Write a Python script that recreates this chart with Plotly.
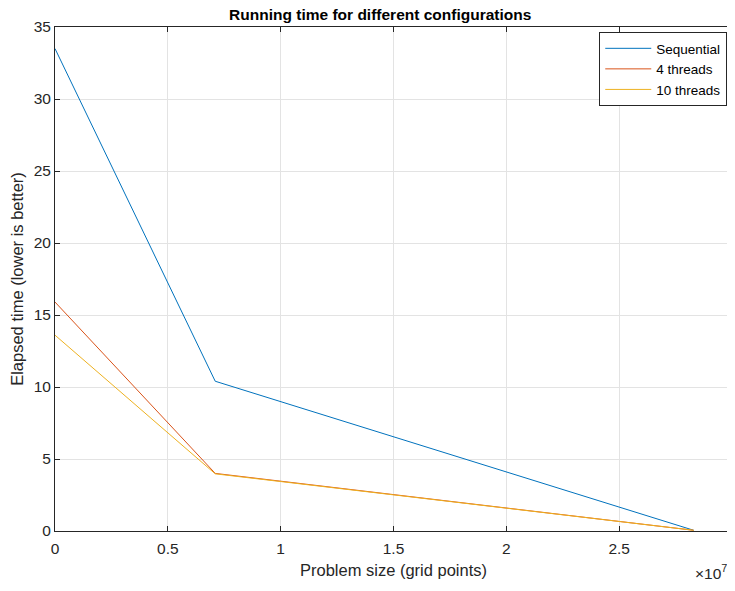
import plotly.graph_objects as go

# Data
problem_size = [0, 7.1e6, 2.83e7]
sequential = [33.5, 10.4, 0.05]
threads4 = [15.9, 4.0, 0.05]
threads10 = [13.6, 3.97, 0.05]

x_tick_vals = [0, 0.5e7, 1e7, 1.5e7, 2e7, 2.5e7, 3e7]
x_tick_text = ["0", "0.5", "1", "1.5", "2", "2.5", "3"]
y_tick_vals = [0, 5, 10, 15, 20, 25, 30, 35]

colors = ["#0072BD", "#D95319", "#EDB120"]
names = ["Sequential", "4 threads", "10 threads"]
series = [sequential, threads4, threads10]

FONT = "Liberation Sans, Arial"

fig = go.Figure()
for name, ys, c in zip(names, series, colors):
    fig.add_trace(go.Scatter(x=problem_size, y=ys, mode="lines", name=name,
                             line=dict(color=c, width=1)))

axis_common = dict(
    showline=True, linecolor="#262626", linewidth=1, mirror="ticks",
    ticks="inside", ticklen=5, tickcolor="#262626", tickwidth=1,
    showgrid=True, gridcolor="#e3e3e3", gridwidth=1, zeroline=False,
    automargin=False, ticklabeloverflow="allow",
    tickfont=dict(family=FONT, size=15.5, color="#262626"),
)

# the page body has an 8px margin, so the figure is sized to fit the window
fig.update_layout(
    width=727, height=583,
    margin=dict(l=47, r=3, t=19, b=60, autoexpand=False),
    paper_bgcolor="white", plot_bgcolor="white",
    title=dict(text="<b>Running time for different configurations</b>",
               x=0.512, xanchor="center", y=0.988, yanchor="middle",
               font=dict(family=FONT, size=15.5, color="black")),
    xaxis=dict(range=[0, 3e7], tickvals=x_tick_vals, ticktext=x_tick_text,
               ticklabelstandoff=3,
               title=dict(text="Problem size (grid points)", standoff=8,
                          font=dict(family=FONT, size=16.5, color="#262626")),
               **axis_common),
    yaxis=dict(range=[0, 35], tickvals=y_tick_vals,
               title=dict(text="Elapsed time (lower is better)", standoff=6,
                          font=dict(family=FONT, size=16.5, color="#262626")),
               **axis_common),
    legend=dict(x=0.993, y=0.99, xanchor="right", yanchor="top",
                bgcolor="white", bordercolor="#262626", borderwidth=1,
                font=dict(family=FONT, size=13.5, color="black"),
                tracegroupgap=0, itemwidth=46),
    showlegend=True,
)

# last x tick label sits on the window edge (partly cut in the reference)
fig.add_annotation(text=x_tick_text[-1], xref="x", yref="paper",
                   x=x_tick_vals[-1], y=-0.014, xanchor="center", yanchor="top",
                   showarrow=False,
                   font=dict(family=FONT, size=15.5, color="#262626"))

fig.add_annotation(text="×10<sup>7</sup>", xref="paper", yref="paper",
                   x=0.996, y=-0.058, xanchor="right", yanchor="top", showarrow=False,
                   font=dict(family=FONT, size=15.5, color="#262626"))

fig.write_html("out.html")
